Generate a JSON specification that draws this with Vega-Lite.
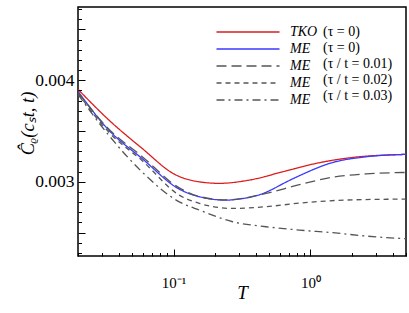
{
  "$schema": "https://vega.github.io/schema/vega-lite/v6.json",
  "width": 328,
  "height": 249,
  "autosize": "none",
  "padding": {"left": 78, "top": 7, "right": 3, "bottom": 57},
  "background": "white",
  "config": {
    "view": {"stroke": "black", "strokeWidth": 1.5},
    "font": "Liberation Serif"
  },
  "data": {
    "values": [
      {"series": "TKO (τ = 0)", "T": 0.02, "C": 0.00391},
      {"series": "TKO (τ = 0)", "T": 0.0335, "C": 0.00361},
      {"series": "TKO (τ = 0)", "T": 0.0587, "C": 0.00333},
      {"series": "TKO (τ = 0)", "T": 0.103, "C": 0.00307},
      {"series": "TKO (τ = 0)", "T": 0.154, "C": 0.003},
      {"series": "TKO (τ = 0)", "T": 0.216, "C": 0.002985},
      {"series": "TKO (τ = 0)", "T": 0.358, "C": 0.003017},
      {"series": "TKO (τ = 0)", "T": 0.627, "C": 0.003098},
      {"series": "TKO (τ = 0)", "T": 1.1, "C": 0.003181},
      {"series": "TKO (τ = 0)", "T": 1.93, "C": 0.003236},
      {"series": "TKO (τ = 0)", "T": 5, "C": 0.00327},

      {"series": "ME (τ = 0)", "T": 0.02, "C": 0.00389},
      {"series": "ME (τ = 0)", "T": 0.0335, "C": 0.00351},
      {"series": "ME (τ = 0)", "T": 0.0587, "C": 0.00323},
      {"series": "ME (τ = 0)", "T": 0.11, "C": 0.002928},
      {"series": "ME (τ = 0)", "T": 0.154, "C": 0.002853},
      {"series": "ME (τ = 0)", "T": 0.242, "C": 0.00282},
      {"series": "ME (τ = 0)", "T": 0.318, "C": 0.002835},
      {"series": "ME (τ = 0)", "T": 0.424, "C": 0.002872},
      {"series": "ME (τ = 0)", "T": 0.53, "C": 0.002928},
      {"series": "ME (τ = 0)", "T": 0.627, "C": 0.00298},
      {"series": "ME (τ = 0)", "T": 0.831, "C": 0.00306},
      {"series": "ME (τ = 0)", "T": 1.456, "C": 0.00319},
      {"series": "ME (τ = 0)", "T": 2.556, "C": 0.003246},
      {"series": "ME (τ = 0)", "T": 5, "C": 0.00327},

      {"series": "ME (τ / t = 0.01)", "T": 0.02, "C": 0.00388},
      {"series": "ME (τ / t = 0.01)", "T": 0.0335, "C": 0.00352},
      {"series": "ME (τ / t = 0.01)", "T": 0.0587, "C": 0.00325},
      {"series": "ME (τ / t = 0.01)", "T": 0.11, "C": 0.00294},
      {"series": "ME (τ / t = 0.01)", "T": 0.154, "C": 0.002856},
      {"series": "ME (τ / t = 0.01)", "T": 0.242, "C": 0.002822},
      {"series": "ME (τ / t = 0.01)", "T": 0.474, "C": 0.002886},
      {"series": "ME (τ / t = 0.01)", "T": 0.831, "C": 0.002972},
      {"series": "ME (τ / t = 0.01)", "T": 1.456, "C": 0.003045},
      {"series": "ME (τ / t = 0.01)", "T": 2.556, "C": 0.003078},
      {"series": "ME (τ / t = 0.01)", "T": 5, "C": 0.003092},

      {"series": "ME (τ / t = 0.02)", "T": 0.02, "C": 0.00387},
      {"series": "ME (τ / t = 0.02)", "T": 0.0335, "C": 0.00349},
      {"series": "ME (τ / t = 0.02)", "T": 0.0587, "C": 0.00321},
      {"series": "ME (τ / t = 0.02)", "T": 0.11, "C": 0.002869},
      {"series": "ME (τ / t = 0.02)", "T": 0.154, "C": 0.002788},
      {"series": "ME (τ / t = 0.02)", "T": 0.27, "C": 0.002738},
      {"series": "ME (τ / t = 0.02)", "T": 0.474, "C": 0.002755},
      {"series": "ME (τ / t = 0.02)", "T": 0.831, "C": 0.00279},
      {"series": "ME (τ / t = 0.02)", "T": 1.77, "C": 0.00282},
      {"series": "ME (τ / t = 0.02)", "T": 5, "C": 0.00283},

      {"series": "ME (τ / t = 0.03)", "T": 0.02, "C": 0.00386},
      {"series": "ME (τ / t = 0.03)", "T": 0.0335, "C": 0.00346},
      {"series": "ME (τ / t = 0.03)", "T": 0.0587, "C": 0.003098},
      {"series": "ME (τ / t = 0.03)", "T": 0.11, "C": 0.002803},
      {"series": "ME (τ / t = 0.03)", "T": 0.154, "C": 0.002722},
      {"series": "ME (τ / t = 0.03)", "T": 0.27, "C": 0.002607},
      {"series": "ME (τ / t = 0.03)", "T": 0.474, "C": 0.002558},
      {"series": "ME (τ / t = 0.03)", "T": 0.831, "C": 0.002525},
      {"series": "ME (τ / t = 0.03)", "T": 1.456, "C": 0.002499},
      {"series": "ME (τ / t = 0.03)", "T": 2.556, "C": 0.002466},
      {"series": "ME (τ / t = 0.03)", "T": 5, "C": 0.00244}
    ]
  },
  "mark": {"type": "line", "interpolate": "monotone", "strokeWidth": 1.3, "clip": true},
  "encoding": {
    "x": {
      "field": "T",
      "type": "quantitative",
      "scale": {"type": "log", "domain": [0.02, 5], "nice": false},
      "axis": {
        "zindex": 1,
        "values": [0.02, 0.03, 0.04, 0.05, 0.06, 0.07, 0.08, 0.09, 0.1, 0.2, 0.3, 0.4, 0.5, 0.6, 0.7, 0.8, 0.9, 1, 2, 3, 4, 5],
        "labelExpr": "datum.value == 0.1 ? '10⁻¹' : datum.value == 1 ? '10⁰' : ''",
        "ticks": true,
        "tickSize": -7,
        "tickDash": {"condition": {"test": "datum.value == 0.1 || datum.value == 1", "value": [20, 0]}, "value": [3.5, 40]},
        "tickColor": "black",
        "tickWidth": 1,
        "domain": false,
        "grid": false,
        "labelFont": "Liberation Serif",
        "labelFontSize": 15,
        "labelColor": "black",
        "labelPadding": 26,
        "labelFlush": false,
        "title": "T",
        "titleFont": "Liberation Serif",
        "titleFontStyle": "italic",
        "titleFontWeight": "normal",
        "titleFontSize": 19,
        "titleColor": "black",
        "titlePadding": -7
      }
    },
    "y": {
      "field": "C",
      "type": "quantitative",
      "scale": {"domain": [0.00227, 0.00472], "nice": false, "zero": false},
      "axis": {
        "zindex": 1,
        "values": [0.0023, 0.0024, 0.0025, 0.0026, 0.0027, 0.0028, 0.0029, 0.003, 0.0031, 0.0032, 0.0033, 0.0034, 0.0035, 0.0036, 0.0037, 0.0038, 0.0039, 0.004, 0.0041, 0.0042, 0.0043, 0.0044, 0.0045, 0.0046, 0.0047],
        "labelExpr": "abs(datum.value - 0.003) < 1e-7 ? '0.003' : abs(datum.value - 0.004) < 1e-7 ? '0.004' : ''",
        "ticks": true,
        "tickSize": -7,
        "tickDash": {"condition": {"test": "abs(datum.value * 2000 - round(datum.value * 2000)) < 0.01", "value": [20, 0]}, "value": [3.5, 40]},
        "tickColor": "black",
        "tickWidth": 1,
        "domain": false,
        "grid": false,
        "labelFont": "Liberation Serif",
        "labelFontSize": 17.5,
        "labelColor": "black",
        "labelPadding": 11,
        "title": "Ĉᵨ(cₛt, t)",
        "titleFont": "Liberation Serif",
        "titleFontStyle": "italic",
        "titleFontWeight": "normal",
        "titleFontSize": 18.5,
        "titleColor": "black",
        "titleX": -41,
        "titleY": 116,
        "titleAngle": -90,
        "titleAlign": "center",
        "titleBaseline": "bottom"
      }
    },
    "color": {
      "field": "series",
      "type": "nominal",
      "scale": {
        "domain": ["TKO (τ = 0)", "ME (τ = 0)", "ME (τ / t = 0.01)", "ME (τ / t = 0.02)", "ME (τ / t = 0.03)"],
        "range": ["#dc1c1c", "#3a3aff", "#555555", "#555555", "#555555"]
      },
      "legend": {
        "orient": "none",
        "legendX": 162,
        "legendY": 17,
        "title": null,
        "symbolType": "M-4.5,0H4.5",
        "symbolSize": 196,
        "symbolStrokeWidth": 1.3,
        "labelExpr": "split(datum.label, ' ')[0]",
        "labelFont": "Liberation Serif",
        "labelFontStyle": "italic",
        "labelFontSize": 14,
        "labelColor": "black",
        "labelOffset": 34,
        "rowPadding": 2,
        "padding": 0,
        "labelLimit": 300
      }
    },
    "strokeDash": {
      "field": "series",
      "type": "nominal",
      "scale": {
        "domain": ["TKO (τ = 0)", "ME (τ = 0)", "ME (τ / t = 0.01)", "ME (τ / t = 0.02)", "ME (τ / t = 0.03)"],
        "range": [[1, 0], [1, 0], [10, 5], [5, 4], [8, 4, 2, 4]]
      },
      "legend": {
        "orient": "none",
        "legendX": 162,
        "legendY": 17,
        "title": null,
        "symbolType": "M-4.5,0H4.5",
        "symbolSize": 196,
        "symbolStrokeWidth": 1.3,
        "labelExpr": "split(datum.label, ' ')[0]",
        "labelFont": "Liberation Serif",
        "labelFontStyle": "italic",
        "labelFontSize": 14,
        "labelColor": "black",
        "labelOffset": 34,
        "rowPadding": 2,
        "padding": 0,
        "labelLimit": 300
      }
    },
    "opacity": {
      "field": "series",
      "type": "nominal",
      "scale": {
        "domain": ["TKO (τ = 0)", "ME (τ = 0)", "ME (τ / t = 0.01)", "ME (τ / t = 0.02)", "ME (τ / t = 0.03)"],
        "range": [1, 1]
      },
      "legend": {
        "orient": "top-right",
        "offset": 13,
        "title": " ",
        "titleFontSize": 5,
        "titlePadding": 0,
        "symbolType": "M-4.5,0H4.5",
        "symbolSize": 196,
        "symbolOpacity": 0,
        "symbolStrokeColor": "transparent",
        "symbolFillColor": "transparent",
        "symbolStrokeWidth": 0,
        "labelExpr": "substring(datum.label, indexof(datum.label, '('))",
        "labelFont": "Liberation Serif",
        "labelFontStyle": "normal",
        "labelFontSize": 14,
        "labelColor": "black",
        "labelOffset": 0,
        "rowPadding": 2,
        "padding": 0,
        "labelLimit": 300
      }
    }
  }
}
